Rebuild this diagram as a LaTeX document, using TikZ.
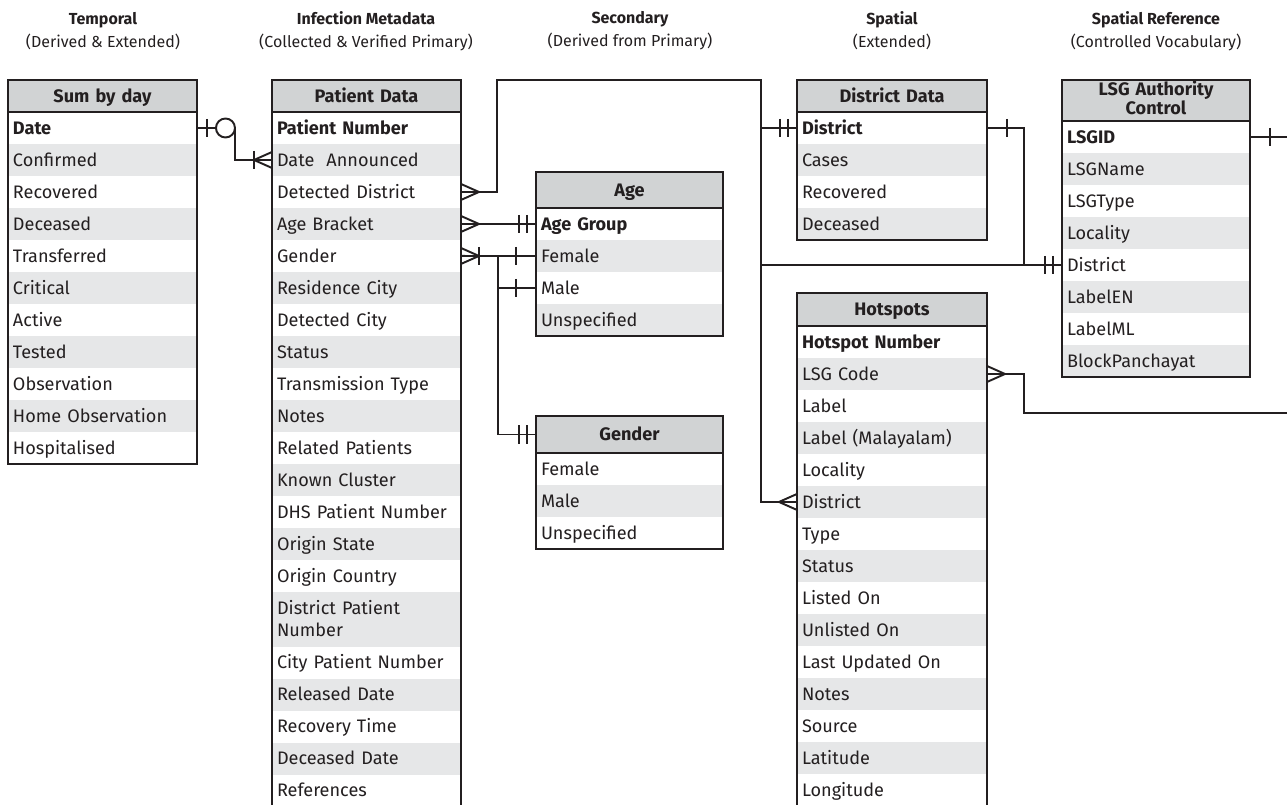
\documentclass[tikz,border=0pt]{standalone}
\usepackage{fontspec}
\setmainfont{Fira Sans}
\usetikzlibrary{positioning}

\definecolor{ink}{HTML}{231F20}
\definecolor{hdrgray}{HTML}{D1D3D4}
\definecolor{stripe}{HTML}{E6E7E8}

\newcommand{\rowstrut}{\rule[-2.9pt]{0pt}{13pt}}

\tikzset{
  hdrbase/.style={fill=hdrgray, anchor=north west, outer sep=0pt, text width=#1,
    inner xsep=0.1cm, align=center, font=\fontsize{10.3}{13}\selectfont\bfseries},
  hdr/.style={hdrbase=#1, inner ysep=0.09cm, minimum height=0.64cm,
    execute at begin node=\rowstrut, execute at end node=\rowstrut},
  fld/.style={anchor=north, outer sep=0pt, text width=#1,
    inner xsep=0.1cm, inner ysep=0.09cm, minimum height=0.64cm, align=left,
    font=\fontsize{10.3}{13}\selectfont,
    execute at begin node=\rowstrut, execute at end node=\rowstrut},
  ttl/.style={align=center, inner sep=0pt, font=\fontsize{9.1}{13}\selectfont},
  % cardinality marks, drawn pointing away from the table
  crowmany/.pic={\draw (0,-8) -- (18,0) -- (0,8);},
  crowonemany/.pic={\draw (0,-8) -- (18,0) -- (0,8); \draw (18,-9) -- (18,9);},
  onebar/.pic={\draw (20,-9) -- (20,9);},
  twobar/.pic={\draw (9,-9) -- (9,9); \draw (17,-9) -- (17,9);},
  zeroone/.pic={\draw (10,-9) -- (10,9); \draw[fill=white] (28.5,0) circle[radius=0.19cm];}
}

\begin{document}
\begin{tikzpicture}[x=0.02cm, y=-0.02cm, line width=1.1pt, color=ink]

    \useasboundingbox (0,0) rectangle (1287,804);
    \clip (0,0) rectangle (1287,804);

    % Column titles
    \node[ttl] (ttl-temp) at (103,31) {\textbf{Temporal}\\(Derived \& Extended)};
    \node[ttl] (ttl-inf) at (366,31) {\textbf{Infection Metadata}\\(Collected \& Verified Primary)};
    \node[ttl] (ttl-sec) at (630,31) {\textbf{Secondary}\\(Derived from Primary)};
    \node[ttl] (ttl-spat) at (892,31) {\textbf{Spatial}\\(Extended)};
    \node[ttl] (ttl-ref) at (1156,31) {\textbf{Spatial Reference}\\(Controlled Vocabulary)};

    % Temporal
    \node[hdr=3.58cm] (sum-0) at (8,80) {Sum by day};
    \foreach \txt [count=\i, remember=\i as \j (initially 0)] in {\textbf{Date}, Confirmed, Recovered,
        Deceased, Transferred, Critical, Active, Tested, Observation, Home Observation, Hospitalised} {
      \ifodd\i \def\rowcol{white}\else\def\rowcol{stripe}\fi
      \node[fld=3.58cm, fill=\rowcol, below=0pt of sum-\j] (sum-\i) {\txt};
    }
    \draw (sum-0.north west) rectangle (sum-11.south east);
    \draw (sum-0.south west) -- (sum-0.south east);

    % Infection metadata
    \node[hdr=3.58cm] (pat-0) at (272,80) {Patient Data};
    \foreach \txt [count=\i, remember=\i as \j (initially 0)] in {\textbf{Patient Number}, Date~~Announced,
        Detected District, Age Bracket, Gender, Residence City, Detected City, Status, Transmission Type,
        Notes, Related Patients, Known Cluster, DHS Patient Number, Origin State, Origin Country,
        District Patient\\Number, City Patient Number, Released Date, Recovery Time, Deceased Date, References} {
      \ifodd\i \def\rowcol{white}\else\def\rowcol{stripe}\fi
      \node[fld=3.58cm, fill=\rowcol, below=0pt of pat-\j] (pat-\i) {\txt};
    }
    \draw (pat-0.north west) rectangle (pat-21.south east);
    \draw (pat-0.south west) -- (pat-0.south east);

    % Secondary
    \node[hdr=3.54cm, minimum height=0.72cm] (age-0) at (536,172) {Age};
    \foreach \txt [count=\i, remember=\i as \j (initially 0)] in {\textbf{Age Group}, Female, Male, Unspecified} {
      \ifodd\i \def\rowcol{white}\else\def\rowcol{stripe}\fi
      \node[fld=3.54cm, fill=\rowcol, below=0pt of age-\j] (age-\i) {\txt};
    }
    \draw (age-0.north west) rectangle (age-4.south east);
    \draw (age-0.south west) -- (age-0.south east);

    \node[hdr=3.54cm, minimum height=0.74cm] (gen-0) at (536,416) {Gender};
    \foreach \txt [count=\i, remember=\i as \j (initially 0)] in {Female, Male, Unspecified} {
      \ifodd\i \def\rowcol{white}\else\def\rowcol{stripe}\fi
      \node[fld=3.54cm, fill=\rowcol, below=0pt of gen-\j] (gen-\i) {\txt};
    }
    \draw (gen-0.north west) rectangle (gen-3.south east);
    \draw (gen-0.south west) -- (gen-0.south east);

    % Spatial
    \node[hdr=3.6cm] (dist-0) at (797,80) {District Data};
    \foreach \txt [count=\i, remember=\i as \j (initially 0)] in {\textbf{District}, Cases, Recovered, Deceased} {
      \ifodd\i \def\rowcol{white}\else\def\rowcol{stripe}\fi
      \node[fld=3.6cm, fill=\rowcol, below=0pt of dist-\j] (dist-\i) {\txt};
    }
    \draw (dist-0.north west) rectangle (dist-4.south east);
    \draw (dist-0.south west) -- (dist-0.south east);

    \node[hdr=3.6cm, minimum height=0.66cm] (hot-0) at (797,293) {Hotspots};
    \foreach \txt [count=\i, remember=\i as \j (initially 0)] in {\textbf{Hotspot Number}, LSG Code, Label,
        Label (Malayalam), Locality, District, Type, Status, Listed On, Unlisted On, Last Updated On,
        Notes, Source, Latitude, Longitude} {
      \ifodd\i \def\rowcol{white}\else\def\rowcol{stripe}\fi
      \node[fld=3.6cm, fill=\rowcol, below=0pt of hot-\j] (hot-\i) {\txt};
    }
    \draw (hot-0.north west) rectangle (hot-15.south east);
    \draw (hot-0.south west) -- (hot-0.south east);

    % Spatial reference
    \node[hdrbase=3.56cm, minimum height=0.82cm, inner ysep=0pt,
          font=\fontsize{10.3}{11}\selectfont\bfseries] (lsg-0) at (1062,80)
          {LSG Authority\\Control\rule[-3pt]{0pt}{0pt}};
    \foreach \txt [count=\i, remember=\i as \j (initially 0)] in {\textbf{LSGID}, LSGName, LSGType,
        Locality, District, LabelEN, LabelML, BlockPanchayat} {
      \ifodd\i \def\rowcol{white}\else\def\rowcol{stripe}\fi
      \node[fld=3.56cm, fill=\rowcol, below=0pt of lsg-\j] (lsg-\i) {\txt};
    }
    \draw (lsg-0.north west) rectangle (lsg-8.south east);
    \draw (lsg-0.south west) -- (lsg-0.south east);

    % Sum by day -- Patient Data
    \draw (sum-1.east) -- ++(38,0) |- (pat-2.west);
    \pic at (sum-1.east) {zeroone};
    \pic[xscale=-1] at (pat-2.west) {crowonemany};

    % Detected District -- District Data, LSG, Hotspots
    \coordinate (dtrunk) at (761,80);
    \draw (pat-3.east) -- ++(36,0) |- (dtrunk) |- (hot-6.west);
    \draw (dist-1.west) -- (dist-1.west -| dtrunk);
    \draw (lsg-5.west) -- (lsg-5.west -| dtrunk);
    \draw (dist-1.east) -- ++(37,0) |- (lsg-5.west);
    \pic at (pat-3.east) {crowmany};
    \pic[xscale=-1] at (dist-1.west) {twobar};
    \pic[xscale=-1] at (hot-6.west) {crowmany};
    \pic[xscale=-1] at (lsg-5.west) {twobar};
    \pic at (dist-1.east) {onebar};

    % Age Bracket -- Age
    \draw (pat-4.east) -- (age-1.west);
    \pic at (pat-4.east) {crowmany};
    \pic[xscale=-1] at (age-1.west) {twobar};

    % Gender -- Age rows, Gender
    \path (pat-5.east) ++(37,0) coordinate (gsplit);
    \draw (pat-5.east) -- (age-2.west);
    \draw (gsplit) |- (gen-0.west);
    \draw (age-3.west) -- (age-3.west -| gsplit);
    \pic at (pat-5.east) {crowonemany};
    \pic[xscale=-1] at (age-2.west) {onebar};
    \pic[xscale=-1] at (age-3.west) {onebar};
    \pic[xscale=-1] at (gen-0.west) {twobar};

    % Links leaving the frame
    \coordinate (lsgexit) at (1300,137);
    \coordinate (hotexit) at (1300,413);
    \draw (lsg-1.east) -- (lsg-1.east -| lsgexit);
    \pic at (lsg-1.east) {onebar};
    \draw (hot-2.east) -- ++(37,0) |- (hotexit);
    \pic at (hot-2.east) {crowmany};

\end{tikzpicture}
\end{document}
